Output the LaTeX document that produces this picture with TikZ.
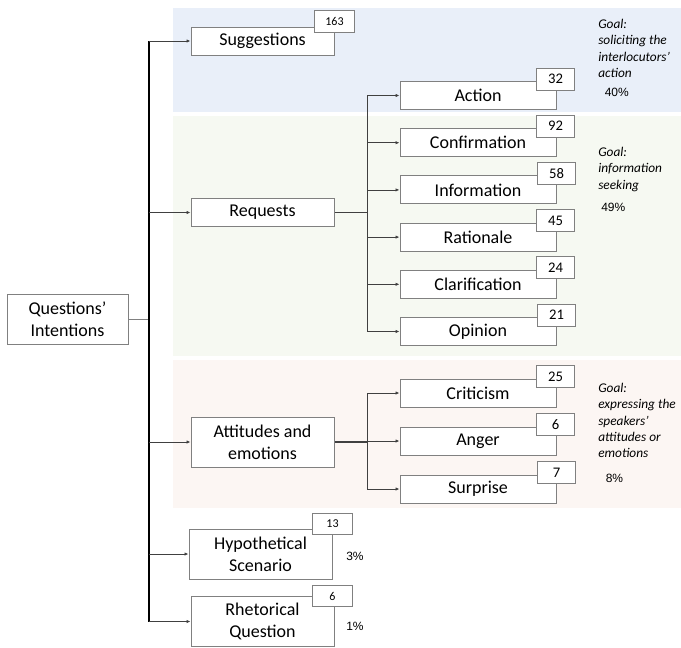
\documentclass[tikz,border=0pt]{standalone}
\usepackage{fontspec}
\setmainfont{Carlito}
\newfontfamily\pctfont{Liberation Sans}
\usetikzlibrary{positioning, arrows.meta}

\definecolor{suggblue}{RGB}{233,239,249}
\definecolor{reqgreen}{RGB}{246,249,242}
\definecolor{attpink}{RGB}{252,246,243}
\definecolor{boxgray}{RGB}{128,128,128}

\begin{document}
\begin{tikzpicture}[x=0.75pt, y=-0.75pt, >={Latex[length=3pt,width=2.6pt]},
	catbox/.style={draw=boxgray, fill=white, line width=0.75pt, minimum width=107.25pt, minimum height=21pt, inner sep=1pt, align=center, font=\fontsize{13.5}{16.3}\selectfont},
	subbox/.style={catbox, minimum width=117pt},
	tallbox/.style={catbox, minimum height=37.5pt},
	tallybox/.style={draw=boxgray, fill=white, line width=0.75pt, minimum width=29pt, minimum height=16.5pt, inner sep=0pt, font=\fontsize{11}{13}\selectfont},
	smalltally/.style={tallybox, minimum width=30pt, minimum height=16pt, font=\fontsize{9}{11}\selectfont},
	goaltext/.style={anchor=west, align=left, inner sep=0pt, font=\fontsize{10}{12.2}\selectfont\itshape},
	pcttext/.style={anchor=west, inner sep=0pt, font=\pctfont\fontsize{9}{11}\selectfont},
	arrowline/.style={->, draw=black!75, line width=0.6pt},
	node distance=35.4pt]
			\useasboundingbox (0,0) rectangle (681,647);
			% goal panels
			\fill [suggblue] (173,8) rectangle (681,112);
			\fill [reqgreen] (173,116) rectangle (681,356);
			\fill [attpink] (173,360) rectangle (681,508);

			\node (root) [tallbox, minimum width=90.75pt] at (67.5,319) {Questions’\\Intentions};
			\node (suggestions) [catbox] at (262.5,41) {Suggestions};
			\node (requests) [catbox] at (262.5,212.5) {Requests};
			\node (attitudes) [tallbox] at (262.5,442) {Attitudes and\\emotions};
			\node (hypothetical) [tallbox] at (260.5,554) {Hypothetical\\Scenario};
			\node (rhetorical) [tallbox] at (262.5,621.5) {Rhetorical\\Question};

			\node (action) [subbox] at (478,95.5) {Action};
			\node (confirmation) [subbox, below of=action] {Confirmation};
			\node (information) [subbox, below of=confirmation] {Information};
			\node (rationale) [subbox, below of=information] {Rationale};
			\node (clarification) [subbox, below of=rationale] {Clarification};
			\node (opinion) [subbox, below of=clarification] {Opinion};
			\node (criticism) [subbox] at (478,393) {Criticism};
			\node (anger) [subbox, below of=criticism, node distance=36pt] {Anger};
			\node (surprise) [subbox, below of=anger, node distance=36pt] {Surprise};

			% counts
			\node (nsuggestions) [smalltally] at ([shift={(0,-5)}]suggestions.north east) {163};
			\node (nhypothetical) [smalltally] at ([shift={(0,-4.5)}]hypothetical.north east) {13};
			\node (nrhetorical) [smalltally] at ([shift={(-2,0)}]rhetorical.north east) {6};
			\node (naction) [tallybox] at ([shift={(-1,-2)}]action.north east) {32};
			\node (nconfirmation) [tallybox] at ([shift={(-1,-2)}]confirmation.north east) {92};
			\node (ninformation) [tallybox] at ([shift={(0,-2)}]information.north east) {58};
			\node (nrationale) [tallybox] at ([shift={(-1,-2)}]rationale.north east) {45};
			\node (nclarification) [tallybox] at ([shift={(-1,-2)}]clarification.north east) {24};
			\node (nopinion) [tallybox] at ([shift={(0,-2)}]opinion.north east) {21};
			\node (ncriticism) [tallybox] at ([shift={(-1,-2)}]criticism.north east) {25};
			\node (nanger) [tallybox] at ([shift={(-1,-2)}]anger.north east) {6};
			\node (nsurprise) [tallybox] at ([shift={(0,-2)}]surprise.north east) {7};

			% goals and shares
			\node (goalsugg) [goaltext] at (598,48.4) {Goal:\\soliciting the\\interlocutors’\\action};
			\node (pctsugg) [pcttext] at (604.5,92.5) {40\%};
			\node (goalreq) [goaltext] at (598,169.5) {Goal:\\information\\seeking};
			\node (pctreq) [pcttext] at (601,207) {49\%};
			\node (goalatt) [goaltext] at (598,420.5) {Goal:\\expressing the\\speakers’\\attitudes or\\emotions};
			\node (pctatt) [pcttext] at (605.5,478) {8\%};
			\node (pcthyp) [pcttext] at (346,556.5) {3\%};
			\node (pctrhet) [pcttext] at (346,626.5) {1\%};

			\coordinate (trunk) at (149,0);
			\coordinate (bus) at (367,0);
			\draw [draw=boxgray, line width=0.75pt] (root.east) -- (trunk |- root.east);
			\draw [line width=2pt] (trunk |- suggestions.west) -- (trunk |- rhetorical.west);
			\draw [arrowline] (trunk |- suggestions.west) -- (suggestions.west);
			\draw [arrowline] (trunk |- requests.west) -- (requests.west);
			\draw [arrowline] (trunk |- attitudes.west) -- (attitudes.west);
			\draw [arrowline] (trunk |- hypothetical.west) -- (hypothetical.west);
			\draw [arrowline] (trunk |- rhetorical.west) -- (rhetorical.west);

			\draw [draw=black!75, line width=1.2pt] (requests.east) -- (bus |- requests.east);
			\draw [draw=black!75, line width=0.6pt] (bus |- action.west) -- (bus |- opinion.west);
			\draw [arrowline] (bus |- action.west) -- (action.west);
			\draw [arrowline] (bus |- confirmation.west) -- (confirmation.west);
			\draw [arrowline] (bus |- information.west) -- (information.west);
			\draw [arrowline] (bus |- rationale.west) -- (rationale.west);
			\draw [arrowline] (bus |- clarification.west) -- (clarification.west);
			\draw [arrowline] (bus |- opinion.west) -- (opinion.west);

			\draw [draw=black!75, line width=1.2pt] (attitudes.east) -- (bus |- attitudes.east);
			\draw [draw=black!75, line width=0.6pt] (bus |- criticism.west) -- (bus |- surprise.west);
			\draw [arrowline] (bus |- criticism.west) -- (criticism.west);
			\draw [arrowline] (bus |- anger.west) -- (anger.west);
			\draw [arrowline] (bus |- surprise.west) -- (surprise.west);
		\end{tikzpicture}
\end{document}
